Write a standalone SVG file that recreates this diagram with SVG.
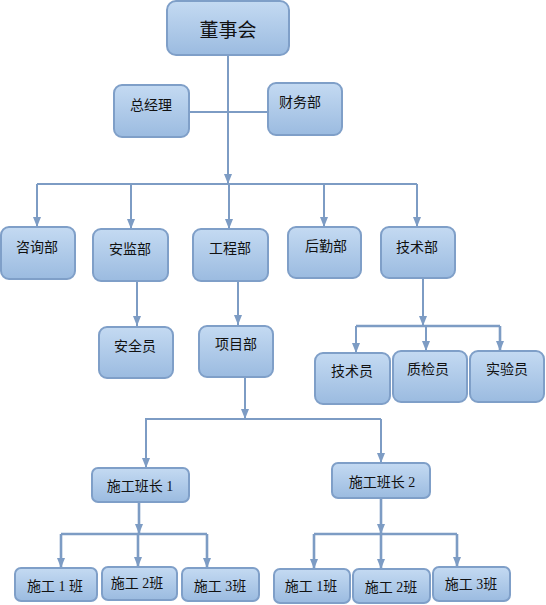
<svg xmlns="http://www.w3.org/2000/svg" width="546" height="605" viewBox="0 0 546 605">
<defs>
<linearGradient id="g" x1="0" y1="0" x2="0" y2="1">
<stop offset="0" stop-color="#c4daf2"/>
<stop offset="1" stop-color="#9bbbe0"/>
</linearGradient>
<marker id="a" markerUnits="userSpaceOnUse" markerWidth="10" markerHeight="10" viewBox="0 0 10 10" refX="10" refY="5" orient="auto">
<path d="M0,1 L10,5 L0,9 Z" fill="#7d9cc4"/>
</marker>
</defs>
<style>
.n rect{fill:url(#g);stroke:#7f9fc8;stroke-width:2}
.n text{font-family:"Liberation Serif","Noto Sans CJK SC",sans-serif;font-size:14px;fill:#111;text-anchor:middle;dominant-baseline:central}
.c path{fill:none;stroke:#7d9cc4;stroke-width:2}
.c .t{stroke-width:2.6}
.c .ar{marker-end:url(#a)}
</style>
<g class="c" id="connectors">
<path class="ar" d="M228,55 V184"/>
<path d="M189,112 H268"/>
<path d="M37,184 H417"/>
<path class="ar" d="M37,184 V227"/>
<path class="ar" d="M131,184 V229"/>
<path class="ar" d="M229,184 V229"/>
<path class="ar" d="M324,184 V227"/>
<path class="ar" d="M417,184 V227"/>
<path class="ar" d="M137,281 V326"/>
<path class="ar" d="M238,281 V325"/>
<path class="ar" d="M423,278 V326"/>
<path class="t" d="M356,326 H500"/>
<path class="ar" d="M356,326 V353"/>
<path class="ar" d="M426,326 V351"/>
<path class="ar t" d="M500,326 V351"/>
<path class="ar" d="M245,377 V419"/>
<path d="M145,419 H381"/>
<path class="ar" d="M146,419 V468"/>
<path class="ar" d="M381,419 V463"/>
<path class="ar t" d="M139,502 V534"/>
<path class="t" d="M61,534 H207"/>
<path class="ar t" d="M61,534 V568"/>
<path class="ar t" d="M138,534 V567"/>
<path class="ar t" d="M207,534 V568"/>
<path class="ar t" d="M381,498 V534"/>
<path class="t" d="M314,534 H457"/>
<path class="ar t" d="M314,534 V569"/>
<path class="ar t" d="M381,534 V569"/>
<path class="ar t" d="M457,534 V567"/>
</g>
<g class="n" id="dongshihui"><rect x="167" y="1" width="122" height="54" rx="9"/><text x="228" y="30" style="font-size:19px">董事会</text></g>
<g class="n" id="zongjingli"><rect x="114" y="85" width="75" height="52" rx="8"/><text x="151" y="105">总经理</text></g>
<g class="n" id="caiwubu"><rect x="268" y="83" width="74" height="52" rx="8"/><text x="300" y="102">财务部</text></g>
<g class="n" id="zixunbu"><rect x="1" y="227" width="74" height="52" rx="8"/><text x="37" y="247">咨询部</text></g>
<g class="n" id="anjianbu"><rect x="93" y="229" width="75" height="52" rx="8"/><text x="130" y="249">安监部</text></g>
<g class="n" id="gongchengbu"><rect x="193" y="229" width="75" height="52" rx="8"/><text x="230" y="248">工程部</text></g>
<g class="n" id="houqinbu"><rect x="288" y="227" width="73" height="51" rx="8"/><text x="326" y="246">后勤部</text></g>
<g class="n" id="jishubu"><rect x="381" y="227" width="74" height="51" rx="8"/><text x="417" y="247">技术部</text></g>
<g class="n" id="anquanyuan"><rect x="99" y="327" width="74" height="51" rx="8"/><text x="135" y="346">安全员</text></g>
<g class="n" id="xiangmubu"><rect x="199" y="326" width="74" height="51" rx="8"/><text x="236" y="344">项目部</text></g>
<g class="n" id="jishuyuan"><rect x="315" y="353" width="75" height="51" rx="8"/><text x="352" y="371">技术员</text></g>
<g class="n" id="zhijianyuan"><rect x="393" y="351" width="74" height="51" rx="8"/><text x="428" y="369">质检员</text></g>
<g class="n" id="shiyanyuan"><rect x="470" y="351" width="74" height="51" rx="8"/><text x="507" y="369">实验员</text></g>
<g class="n" id="banzhang1"><rect x="92" y="468" width="97" height="34" rx="6"/><text x="140" y="486">施工班长 1</text></g>
<g class="n" id="banzhang2"><rect x="332" y="463" width="98" height="35" rx="6"/><text x="382" y="482">施工班长 2</text></g>
<g class="n" id="l1"><rect x="15" y="568" width="82" height="33" rx="6"/><text x="55" y="586">施工 1 班</text></g>
<g class="n" id="l2"><rect x="102" y="567" width="75" height="33" rx="6"/><text x="137" y="583">施工 2班</text></g>
<g class="n" id="l3"><rect x="182" y="568" width="77" height="33" rx="6"/><text x="220" y="586">施工 3班</text></g>
<g class="n" id="r1"><rect x="274" y="569" width="76" height="34" rx="6"/><text x="311" y="586">施工 1班</text></g>
<g class="n" id="r2"><rect x="353" y="569" width="77" height="34" rx="6"/><text x="391" y="587">施工 2班</text></g>
<g class="n" id="r3"><rect x="433" y="567" width="77" height="34" rx="6"/><text x="471" y="584">施工 3班</text></g>
</svg>
